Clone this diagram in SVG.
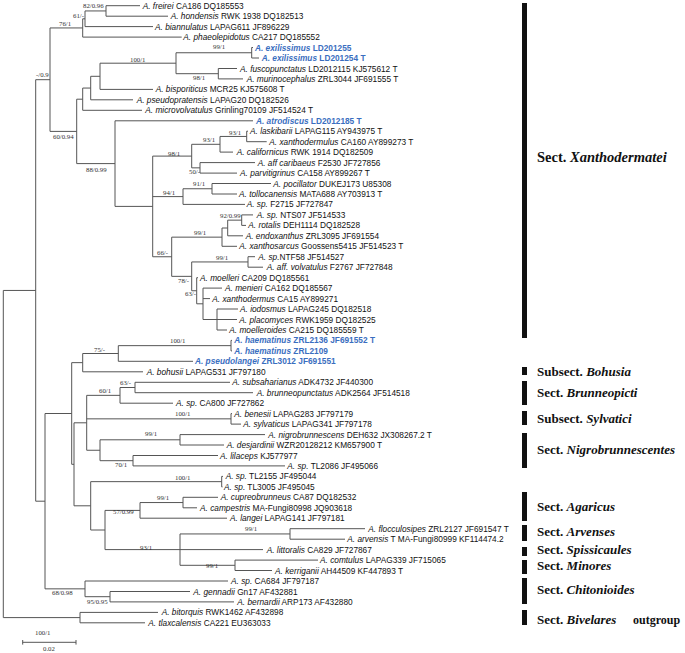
<svg xmlns="http://www.w3.org/2000/svg" width="685" height="653" viewBox="0 0 685 653">
<style>
.b{fill:none;stroke:#555;stroke-width:1}
.l{font-family:"Liberation Sans",Arial,sans-serif;font-size:8.3px;fill:#111}
.n{font-style:italic}
.bl{fill:#3a6ec0;font-weight:bold}
.s{font-family:"Liberation Serif","Times New Roman",serif;font-size:6.8px;fill:#333}
.sec{font-family:"Liberation Serif","Times New Roman",serif;font-size:13px;font-weight:bold;fill:#111}
.bar{fill:#111}
</style>
<rect width="685" height="653" fill="#fff"/>
<g id="branches" class="b">
<path d="M3.3,290.45V617.6 M3.3,290.45H35.7 M35.7,79.7V501.2 M35.7,79.7H50 M50,27.95V131.4 M50,27.95H82.7 M82.7,18.8V37.1 M82.7,18.8H85 M85,10.95V26.6 M85,10.95H106 M106,5.7V16.2 M50,131.4H76.7 M76.7,99.2V163.6 M76.7,99.2H82.7 M82.7,88.05V110.3 M82.7,88.05H90.7 M90.7,76.3V99.8 M90.7,76.3H100 M100,63.2V89.4 M100,63.2H176 M176,52.75V73.7 M176,52.75H251.7 M251.7,47.5V58 M176,73.7H218.3 M218.3,68.5V78.9 M76.7,163.6H115 M115,120.8V206.4 M115,206.4H152.7 M152.7,156.1V256.75 M152.7,156.1H191.7 M191.7,144.3V167.85 M191.7,144.3H220 M220,136.45V152.1 M220,136.45H246.7 M246.7,131.2V141.7 M191.7,167.85H200 M200,162.6V173.1 M152.7,196.6H183 M183,188.75V204.4 M183,188.75H212 M212,183.5V194 M152.7,256.75H171.7 M171.7,237.15V276.35 M171.7,237.15H222 M222,228V246.3 M222,228H227.7 M227.7,220.15V235.8 M227.7,220.15H241.7 M241.7,214.9V225.4 M171.7,276.35H191.7 M191.7,261.95V290.75 M191.7,261.95H248 M248,256.7V267.2 M191.7,290.75H196.7 M196.7,277.7V303.8 M196.7,303.8H203 M203,288.1V319.5 M203,319.5H217 M217,309V330 M35.7,501.2H45 M45,413.5V588.85 M45,413.5H71.7 M71.7,362.65V464.3 M71.7,362.65H82.7 M82.7,353.5V371.8 M82.7,353.5H118.3 M118.3,345.65V361.3 M118.3,345.65H231 M231,340.4V350.9 M71.7,464.3H74 M74,422.8V505.8 M74,422.8H86.7 M86.7,395.35V450.25 M86.7,395.35H120 M120,387.5V403.2 M120,387.5H135 M135,382.3V392.7 M86.7,418.85H231 M231,413.6V424.1 M86.7,450.25H100 M100,439.8V460.7 M100,439.8H180 M180,434.6V445 M100,460.7H133 M133,455.5V465.9 M74,505.8H90.7 M90.7,481.65V530 M90.7,481.65H221.7 M221.7,476.4V486.9 M90.7,530H105 M105,510.4V549.6 M105,510.4H140 M140,502.55V518.2 M140,502.55H183 M183,497.3V507.8 M105,549.6H180 M180,533.95V565.3 M180,533.95H290 M290,528.7V539.2 M180,565.3H235 M235,560.1V570.5 M45,588.85H85 M85,581V596.7 M85,596.7H110 M110,591.5V601.9 M3.3,617.6H80 M80,612.4V622.8"/>
<path d="M106,5.7H140 M106,16.2H168 M85,26.6H153 M82.7,37.1H181.7 M251.7,47.5H253 M251.7,58H259 M218.3,68.5H237 M218.3,78.9H243 M100,89.4H153 M90.7,99.8H133 M82.7,110.3H142 M115,120.8H253 M246.7,131.2H248 M246.7,141.7H266.7 M220,152.1H233 M200,162.6H255 M200,173.1H237 M212,183.5H271 M212,194H237 M183,204.4H245 M241.7,214.9H253 M241.7,225.4H246 M227.7,235.8H243 M222,246.3H237 M248,256.7H255 M248,267.2H263 M196.7,277.7H198 M203,288.1H222 M203,298.6H210 M217,309H238 M217,319.5H237 M217,330H227 M231,340.4H232 M231,350.9H232 M118.3,361.3H193 M82.7,371.8H143 M135,382.3H230 M135,392.7H253 M120,403.2H173 M231,413.6H232 M231,424.1H241 M180,434.6H265 M180,445H224 M133,455.5H218 M133,465.9H285 M221.7,476.4H223 M221.7,486.9H222.5 M183,497.3H218 M183,507.8H197 M140,518.2H227 M290,528.7H365 M290,539.2H345 M180,549.6H263 M235,560.1H318 M235,570.5H272 M85,581H228 M110,591.5H190 M110,601.9H234 M80,612.4H158 M80,622.8H145"/>
</g>
<g id="support" class="s">
<text x="83" y="8">82/0.96</text>
<text x="73" y="18">61/-</text>
<text x="59" y="26.3">76/1</text>
<text x="213" y="49.3">99/1</text>
<text x="130" y="62.3">100/1</text>
<text x="193" y="80.3">98/1</text>
<text x="36" y="76.6">-/0.9</text>
<text x="53" y="139">60/0.94</text>
<text x="229" y="135">93/1</text>
<text x="203" y="141.6">93/1</text>
<text x="168" y="155.6">98/1</text>
<text x="86" y="172.3">88/0.99</text>
<text x="189" y="174">50/-</text>
<text x="193" y="185.6">91/1</text>
<text x="163" y="195">94/1</text>
<text x="220" y="218">92/0.99</text>
<text x="194" y="235">99/1</text>
<text x="216" y="259.6">99/1</text>
<text x="157" y="255.3">66/-</text>
<text x="178" y="283.3">78/-</text>
<text x="185" y="296.3">63/-</text>
<text x="170" y="343">100/1</text>
<text x="94" y="351.6">75/-</text>
<text x="120" y="385.3">63/-</text>
<text x="99" y="393.3">60/1</text>
<text x="175" y="416.3">100/1</text>
<text x="145" y="436.3">99/1</text>
<text x="115" y="467.3">70/1</text>
<text x="175" y="479.6">100/1</text>
<text x="157" y="500.3">99/1</text>
<text x="113" y="514">57/0.99</text>
<text x="245" y="530.6">99/1</text>
<text x="140" y="550">93/1</text>
<text x="206" y="568.3">99/1</text>
<text x="52" y="595">68/0.98</text>
<text x="87" y="604">95/0.95</text>
<text x="35" y="634.6">100/1</text>
</g>
<g id="leaves" class="l">
<g id="t1"><text x="142.7" y="8.7"><tspan class="n">A. freirei</tspan> CA186 DQ185553</text></g>
<g id="t2"><text x="170.7" y="19.2"><tspan class="n">A. hondensis</tspan> RWK 1938 DQ182513</text></g>
<g id="t3"><text x="155" y="29.6"><tspan class="n">A. biannulatus</tspan> LAPAG611 JF896229</text></g>
<g id="t4"><text x="183.3" y="40.1"><tspan class="n">A. phaeolepidotus</tspan> CA217 DQ185552</text></g>
<g id="t5"><text class="bl" x="255" y="50.5"><tspan class="n">A. exilissimus</tspan> LD201255</text></g>
<g id="t6"><text class="bl" x="261.7" y="61"><tspan class="n">A. exilissimus</tspan> LD201254 T</text></g>
<g id="t7"><text x="240" y="71.5"><tspan class="n">A. fuscopunctatus</tspan> LD2012115 KJ575612 T</text></g>
<g id="t8"><text x="246.7" y="81.9"><tspan class="n">A. murinocephalus</tspan> ZRL3044 JF691555 T</text></g>
<g id="t9"><text x="155.7" y="92.4"><tspan class="n">A. bisporiticus</tspan> MCR25 KJ575608 T</text></g>
<g id="t10"><text x="136.7" y="102.8"><tspan class="n">A. pseudopratensis</tspan> LAPAG20 DQ182526</text></g>
<g id="t11"><text x="145.3" y="113.3"><tspan class="n">A. microvolvatulus</tspan> Grinling70109 JF514524 T</text></g>
<g id="t12"><text class="bl" x="256" y="123.8"><tspan class="n">A. atrodiscus</tspan> LD2012185 T</text></g>
<g id="t13"><text x="250" y="134.2"><tspan class="n">A. laskibarii</tspan>  LAPAG115 AY943975  T</text></g>
<g id="t14"><text x="269.3" y="144.7"><tspan class="n">A. xanthodermulus</tspan> CA160 AY899273 T</text></g>
<g id="t15"><text x="236.7" y="155.1"><tspan class="n">A. californicus</tspan> RWK 1914 DQ182509</text></g>
<g id="t16"><text x="257.7" y="165.6"><tspan class="n">A. aff caribaeus</tspan> F2530 JF727856</text></g>
<g id="t17"><text x="240" y="176.1"><tspan class="n">A. parvitigrinus</tspan> CA158 AY899267 T</text></g>
<g id="t18"><text x="273.3" y="186.5"><tspan class="n">A. pocillator</tspan> DUKEJ173 U85308</text></g>
<g id="t19"><text x="239" y="197"><tspan class="n">A. tollocanensis</tspan> MATA688 AY703913 T</text></g>
<g id="t20"><text x="246.7" y="207.4"><tspan class="n">A. sp.</tspan> F2715 JF727847</text></g>
<g id="t21"><text x="256.7" y="217.9"><tspan class="n">A. sp.</tspan> NTS07 JF514533</text></g>
<g id="t22"><text x="248.3" y="228.4"><tspan class="n">A. rotalis</tspan> DEH1114 DQ182528</text></g>
<g id="t23"><text x="245.7" y="238.8"><tspan class="n">A. endoxanthus</tspan> ZRL3095 JF691554</text></g>
<g id="t24"><text x="239.3" y="249.3"><tspan class="n">A. xanthosarcus</tspan> Goossens5415 JF514523 T</text></g>
<g id="t25"><text x="258.3" y="259.7"><tspan class="n">A. sp.</tspan>NTF58 JF514527</text></g>
<g id="t26"><text x="266.7" y="270.2"><tspan class="n">A. aff. volvatulus</tspan> F2767 JF727848</text></g>
<g id="t27"><text x="200" y="280.7"><tspan class="n">A. moelleri</tspan> CA209 DQ185561</text></g>
<g id="t28"><text x="225" y="291.1"><tspan class="n">A. menieri</tspan> CA162 DQ185567</text></g>
<g id="t29"><text x="212.3" y="301.6"><tspan class="n">A. xanthodermus</tspan> CA15 AY899271</text></g>
<g id="t30"><text x="240" y="312"><tspan class="n">A. iodosmus</tspan> LAPAG245 DQ182518</text></g>
<g id="t31"><text x="239.3" y="322.5"><tspan class="n">A. placomyces</tspan> RWK1959 DQ182525</text></g>
<g id="t32"><text x="229.3" y="333"><tspan class="n">A. moelleroides</tspan> CA215 DQ185559 T</text></g>
<g id="t33"><text class="bl" x="234.3" y="343.4"><tspan class="n">A. haematinus</tspan> ZRL2136 JF691552  T</text></g>
<g id="t34"><text class="bl" x="234.3" y="353.9"><tspan class="n">A. haematinus</tspan> ZRL2109</text></g>
<g id="t35"><text class="bl" x="195" y="364.3"><tspan class="n">A. pseudolangei</tspan> ZRL3012 JF691551</text></g>
<g id="t36"><text x="146.7" y="374.8"><tspan class="n">A. bohusii</tspan> LAPAG531 JF797180</text></g>
<g id="t37"><text x="232.3" y="385.3"><tspan class="n">A. subsaharianus</tspan> ADK4732 JF440300</text></g>
<g id="t38"><text x="256.7" y="395.7"><tspan class="n">A. brunneopunctatus</tspan> ADK2564 JF514518</text></g>
<g id="t39"><text x="176" y="406.2"><tspan class="n">A. sp.</tspan> CA800 JF727862</text></g>
<g id="t40"><text x="234.3" y="416.6"><tspan class="n">A. benesii</tspan> LAPAG283 JF797179</text></g>
<g id="t41"><text x="243.3" y="427.1"><tspan class="n">A. sylvaticus</tspan> LAPAG341 JF797178</text></g>
<g id="t42"><text x="268.3" y="437.6"><tspan class="n">A. nigrobrunnescens</tspan> DEH632 JX308267.2 T</text></g>
<g id="t43"><text x="226.7" y="448"><tspan class="n">A. desjardinii</tspan> WZR20128212 KM657900  T</text></g>
<g id="t44"><text x="220" y="458.5"><tspan class="n">A. lilaceps</tspan> KJ577977</text></g>
<g id="t45"><text x="287.3" y="468.9"><tspan class="n">A. sp.</tspan> TL2086 JF495066</text></g>
<g id="t46"><text x="225.7" y="479.4"><tspan class="n">A. sp.</tspan> TL2155 JF495044</text></g>
<g id="t47"><text x="224" y="489.9"><tspan class="n">A. sp.</tspan> TL3005 JF495045</text></g>
<g id="t48"><text x="220.7" y="500.3"><tspan class="n">A. cupreobrunneus</tspan> CA87 DQ182532</text></g>
<g id="t49"><text x="200" y="510.8"><tspan class="n">A. campestris</tspan> MA-Fungi80998 JQ903618</text></g>
<g id="t50"><text x="230" y="521.2"><tspan class="n">A. langei</tspan> LAPAG141 JF797181</text></g>
<g id="t51"><text x="368.3" y="531.7"><tspan class="n">A. flocculosipes</tspan> ZRL2127 JF691547 T</text></g>
<g id="t52"><text x="347.3" y="542.2"><tspan class="n">A. arvensis</tspan> T MA-Fungi80999 KF114474.2</text></g>
<g id="t53"><text x="266.7" y="552.6"><tspan class="n">A. littoralis</tspan> CA829 JF727867</text></g>
<g id="t54"><text x="320" y="563.1"><tspan class="n">A. comtulus</tspan> LAPAG339 JF715065</text></g>
<g id="t55"><text x="275" y="573.5"><tspan class="n">A. kerriganii</tspan> AH44509 KF447893 T</text></g>
<g id="t56"><text x="231" y="584"><tspan class="n">A. sp.</tspan> CA684 JF797187</text></g>
<g id="t57"><text x="193.3" y="594.5"><tspan class="n">A. gennadii</tspan> Gn17 AF432881</text></g>
<g id="t58"><text x="237.3" y="604.9"><tspan class="n">A. bernardii</tspan> ARP173 AF432880</text></g>
<g id="t59"><text x="161.7" y="615.4"><tspan class="n">A. bitorquis</tspan> RWK1462 AF432898</text></g>
<g id="t60"><text x="148.3" y="625.8"><tspan class="n">A. tlaxcalensis</tspan> CA221 EU363033</text></g>
</g>
<g id="scale">
<path class="b" d="M22.7,642.3H76 M22.7,640V644.6 M76,640V644.6"/>
<text class="s" x="43" y="651">0.02</text>
</g>
<g id="sections">
<rect class="bar" x="522" y="3" width="5" height="335"/>
<text class="sec" x="537" y="162" style="font-size:14.5px">Sect. <tspan class="n">Xanthodermatei</tspan></text>
<rect class="bar" x="522" y="367" width="5" height="8"/>
<text class="sec" x="537" y="376">Subsect. <tspan class="n">Bohusia</tspan></text>
<rect class="bar" x="522" y="381" width="5" height="24"/>
<text class="sec" x="537" y="397">Sect. <tspan class="n">Brunneopicti</tspan></text>
<rect class="bar" x="522" y="411" width="5" height="14"/>
<text class="sec" x="537" y="423">Subsect. <tspan class="n">Sylvatici</tspan></text>
<rect class="bar" x="522" y="433" width="5" height="35"/>
<text class="sec" x="537" y="454">Sect. <tspan class="n">Nigrobrunnescentes</tspan></text>
<rect class="bar" x="522" y="492" width="5" height="29"/>
<text class="sec" x="537" y="511">Sect. <tspan class="n">Agaricus</tspan></text>
<rect class="bar" x="522" y="525" width="5" height="16"/>
<text class="sec" x="537" y="536">Sect. <tspan class="n">Arvenses</tspan></text>
<rect class="bar" x="522" y="547" width="5" height="9"/>
<text class="sec" x="537" y="554">Sect. <tspan class="n">Spissicaules</tspan></text>
<rect class="bar" x="522" y="560" width="5" height="14"/>
<text class="sec" x="537" y="570">Sect. <tspan class="n">Minores</tspan></text>
<rect class="bar" x="522" y="578" width="5" height="26"/>
<text class="sec" x="537" y="594">Sect. <tspan class="n">Chitonioides</tspan></text>
<rect class="bar" x="522" y="610" width="5" height="15"/>
<text class="sec" x="537" y="624">Sect. <tspan class="n">Bivelares</tspan><tspan x="633" style="font-size:12px">outgroup</tspan></text>
</g>
</svg>
